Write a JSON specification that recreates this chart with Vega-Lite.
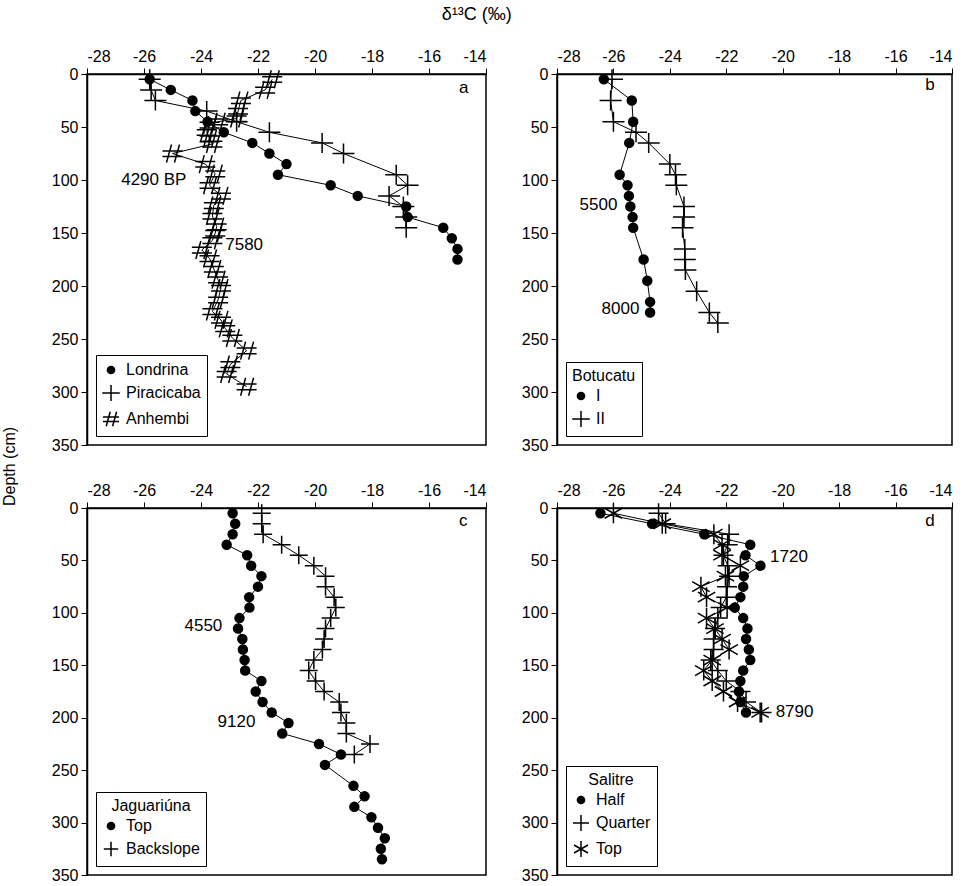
{
  "$schema": "https://vega.github.io/schema/vega-lite/v6.json",
  "padding": {"left": 0, "top": 6, "right": 5, "bottom": 2},
  "bounds": "flush",
  "title": {"text": "δ¹³C (‰)", "fontSize": 18, "fontWeight": "normal", "font": "Liberation Sans", "anchor": "middle", "offset": 23},
  "config": {
    "font": "Liberation Sans",
    "view": {"stroke": "black", "strokeWidth": 1.5},
    "axis": {"domainColor": "black", "domainWidth": 1.5, "tickColor": "black", "tickWidth": 1, "labelColor": "black", "labelFontSize": 16, "labelFont": "Liberation Sans", "grid": false, "titleFontSize": 16, "titleFontWeight": "normal", "titleColor": "black", "labelOverlap": false, "labelBound": false},
    "legend": {"labelFontSize": 16, "titleFontSize": 16, "titleFontWeight": "normal", "symbolSize": 256, "symbolStrokeColor": "black", "symbolFillColor": "transparent", "symbolStrokeWidth": 1.5, "strokeColor": "black", "padding": 6, "rowPadding": 4, "fillColor": "white", "labelOffset": 6, "orient": "bottom-left", "offset": 9, "titlePadding": 3, "labelColor": "black", "titleColor": "black"}
  },
  "resolve": {"scale": {"x": "independent", "y": "independent", "shape": "independent"}, "legend": {"shape": "independent"}, "axis": {"x": "independent", "y": "independent"}},
  "datasets": {
    "a": [
      {"series": "Londrina", "depth": 5, "d13c": -25.8}, {"series": "Londrina", "depth": 15, "d13c": -25.06}, {"series": "Londrina", "depth": 25, "d13c": -24.3}, {"series": "Londrina", "depth": 35, "d13c": -24.2}, {"series": "Londrina", "depth": 45, "d13c": -23.77}, {"series": "Londrina", "depth": 55, "d13c": -23.2}, {"series": "Londrina", "depth": 65, "d13c": -22.2}, {"series": "Londrina", "depth": 75, "d13c": -21.6}, {"series": "Londrina", "depth": 85, "d13c": -21.0}, {"series": "Londrina", "depth": 95, "d13c": -21.3}, {"series": "Londrina", "depth": 105, "d13c": -19.45}, {"series": "Londrina", "depth": 115, "d13c": -18.5}, {"series": "Londrina", "depth": 125, "d13c": -16.8}, {"series": "Londrina", "depth": 135, "d13c": -16.75}, {"series": "Londrina", "depth": 145, "d13c": -15.5}, {"series": "Londrina", "depth": 155, "d13c": -15.2}, {"series": "Londrina", "depth": 165, "d13c": -15.0}, {"series": "Londrina", "depth": 175, "d13c": -15.0},
      {"series": "Piracicaba", "depth": 5, "d13c": -25.8}, {"series": "Piracicaba", "depth": 15, "d13c": -25.75}, {"series": "Piracicaba", "depth": 25, "d13c": -25.6}, {"series": "Piracicaba", "depth": 35, "d13c": -23.8}, {"series": "Piracicaba", "depth": 45, "d13c": -22.75}, {"series": "Piracicaba", "depth": 55, "d13c": -21.6}, {"series": "Piracicaba", "depth": 65, "d13c": -19.75}, {"series": "Piracicaba", "depth": 75, "d13c": -19.0}, {"series": "Piracicaba", "depth": 95, "d13c": -17.15}, {"series": "Piracicaba", "depth": 105, "d13c": -16.75}, {"series": "Piracicaba", "depth": 115, "d13c": -17.4}, {"series": "Piracicaba", "depth": 125, "d13c": -16.9}, {"series": "Piracicaba", "depth": 135, "d13c": -16.8}, {"series": "Piracicaba", "depth": 145, "d13c": -16.8},
      {"series": "Anhembi", "depth": 5, "d13c": -21.5}, {"series": "Anhembi", "depth": 15, "d13c": -21.75}, {"series": "Anhembi", "depth": 25, "d13c": -22.6}, {"series": "Anhembi", "depth": 35, "d13c": -22.7}, {"series": "Anhembi", "depth": 42, "d13c": -22.75}, {"series": "Anhembi", "depth": 45, "d13c": -23.4}, {"series": "Anhembi", "depth": 48, "d13c": -23.7}, {"series": "Anhembi", "depth": 55, "d13c": -23.8}, {"series": "Anhembi", "depth": 61, "d13c": -23.7}, {"series": "Anhembi", "depth": 66, "d13c": -23.6}, {"series": "Anhembi", "depth": 75, "d13c": -25.0}, {"series": "Anhembi", "depth": 85, "d13c": -23.85}, {"series": "Anhembi", "depth": 94, "d13c": -23.5}, {"series": "Anhembi", "depth": 105, "d13c": -23.7}, {"series": "Anhembi", "depth": 115, "d13c": -23.3}, {"series": "Anhembi", "depth": 124, "d13c": -23.55}, {"series": "Anhembi", "depth": 134, "d13c": -23.6}, {"series": "Anhembi", "depth": 144, "d13c": -23.45}, {"series": "Anhembi", "depth": 150, "d13c": -23.5}, {"series": "Anhembi", "depth": 157, "d13c": -23.6}, {"series": "Anhembi", "depth": 166, "d13c": -23.97}, {"series": "Anhembi", "depth": 174, "d13c": -23.7}, {"series": "Anhembi", "depth": 184, "d13c": -23.55}, {"series": "Anhembi", "depth": 194, "d13c": -23.4}, {"series": "Anhembi", "depth": 202, "d13c": -23.3}, {"series": "Anhembi", "depth": 213, "d13c": -23.4}, {"series": "Anhembi", "depth": 224, "d13c": -23.6}, {"series": "Anhembi", "depth": 232, "d13c": -23.3}, {"series": "Anhembi", "depth": 240, "d13c": -23.15}, {"series": "Anhembi", "depth": 249, "d13c": -22.9}, {"series": "Anhembi", "depth": 261, "d13c": -22.4}, {"series": "Anhembi", "depth": 274, "d13c": -22.97}, {"series": "Anhembi", "depth": 283, "d13c": -23.1}, {"series": "Anhembi", "depth": 295, "d13c": -22.4}
    ],
    "a_lab": [
      {"label": "4290 BP", "d13c": -26.8, "depth": 100},
      {"label": "7580", "d13c": -23.15, "depth": 161},
      {"label": "a", "d13c": -14.95, "depth": 13}
    ],
    "b": [
      {"series": "I", "depth": 5, "d13c": -26.34}, {"series": "I", "depth": 25, "d13c": -25.35}, {"series": "I", "depth": 45, "d13c": -25.3}, {"series": "I", "depth": 65, "d13c": -25.44}, {"series": "I", "depth": 95, "d13c": -25.78}, {"series": "I", "depth": 105, "d13c": -25.5}, {"series": "I", "depth": 115, "d13c": -25.45}, {"series": "I", "depth": 125, "d13c": -25.4}, {"series": "I", "depth": 135, "d13c": -25.32}, {"series": "I", "depth": 145, "d13c": -25.3}, {"series": "I", "depth": 175, "d13c": -24.93}, {"series": "I", "depth": 195, "d13c": -24.8}, {"series": "I", "depth": 215, "d13c": -24.7}, {"series": "I", "depth": 225, "d13c": -24.7},
      {"series": "II", "depth": 5, "d13c": -26.05}, {"series": "II", "depth": 25, "d13c": -26.1}, {"series": "II", "depth": 45, "d13c": -26.0}, {"series": "II", "depth": 55, "d13c": -25.2}, {"series": "II", "depth": 65, "d13c": -24.75}, {"series": "II", "depth": 85, "d13c": -24.0}, {"series": "II", "depth": 95, "d13c": -23.8}, {"series": "II", "depth": 105, "d13c": -23.77}, {"series": "II", "depth": 125, "d13c": -23.5}, {"series": "II", "depth": 135, "d13c": -23.5}, {"series": "II", "depth": 145, "d13c": -23.55}, {"series": "II", "depth": 165, "d13c": -23.47}, {"series": "II", "depth": 175, "d13c": -23.47}, {"series": "II", "depth": 185, "d13c": -23.45}, {"series": "II", "depth": 205, "d13c": -23.05}, {"series": "II", "depth": 225, "d13c": -22.6}, {"series": "II", "depth": 235, "d13c": -22.3}
    ],
    "b_lab": [
      {"label": "5500", "d13c": -27.2, "depth": 124},
      {"label": "8000", "d13c": -26.42, "depth": 222},
      {"label": "b", "d13c": -14.95, "depth": 10}
    ],
    "c": [
      {"series": "Top", "depth": 5, "d13c": -22.89}, {"series": "Top", "depth": 15, "d13c": -22.8}, {"series": "Top", "depth": 25, "d13c": -22.89}, {"series": "Top", "depth": 35, "d13c": -23.1}, {"series": "Top", "depth": 45, "d13c": -22.38}, {"series": "Top", "depth": 55, "d13c": -22.24}, {"series": "Top", "depth": 65, "d13c": -21.88}, {"series": "Top", "depth": 75, "d13c": -22.0}, {"series": "Top", "depth": 85, "d13c": -22.31}, {"series": "Top", "depth": 95, "d13c": -22.3}, {"series": "Top", "depth": 105, "d13c": -22.65}, {"series": "Top", "depth": 115, "d13c": -22.7}, {"series": "Top", "depth": 125, "d13c": -22.55}, {"series": "Top", "depth": 135, "d13c": -22.53}, {"series": "Top", "depth": 145, "d13c": -22.47}, {"series": "Top", "depth": 155, "d13c": -22.45}, {"series": "Top", "depth": 165, "d13c": -21.88}, {"series": "Top", "depth": 175, "d13c": -22.08}, {"series": "Top", "depth": 185, "d13c": -21.84}, {"series": "Top", "depth": 195, "d13c": -21.52}, {"series": "Top", "depth": 205, "d13c": -20.93}, {"series": "Top", "depth": 215, "d13c": -21.15}, {"series": "Top", "depth": 225, "d13c": -19.86}, {"series": "Top", "depth": 235, "d13c": -19.09}, {"series": "Top", "depth": 245, "d13c": -19.65}, {"series": "Top", "depth": 265, "d13c": -18.65}, {"series": "Top", "depth": 275, "d13c": -18.26}, {"series": "Top", "depth": 285, "d13c": -18.62}, {"series": "Top", "depth": 295, "d13c": -18.02}, {"series": "Top", "depth": 305, "d13c": -17.79}, {"series": "Top", "depth": 315, "d13c": -17.55}, {"series": "Top", "depth": 325, "d13c": -17.69}, {"series": "Top", "depth": 335, "d13c": -17.65},
      {"series": "Backslope", "depth": 5, "d13c": -21.87}, {"series": "Backslope", "depth": 15, "d13c": -21.87}, {"series": "Backslope", "depth": 25, "d13c": -21.82}, {"series": "Backslope", "depth": 35, "d13c": -21.17}, {"series": "Backslope", "depth": 45, "d13c": -20.57}, {"series": "Backslope", "depth": 55, "d13c": -20.04}, {"series": "Backslope", "depth": 65, "d13c": -19.63}, {"series": "Backslope", "depth": 75, "d13c": -19.63}, {"series": "Backslope", "depth": 85, "d13c": -19.33}, {"series": "Backslope", "depth": 95, "d13c": -19.27}, {"series": "Backslope", "depth": 105, "d13c": -19.45}, {"series": "Backslope", "depth": 115, "d13c": -19.63}, {"series": "Backslope", "depth": 125, "d13c": -19.68}, {"series": "Backslope", "depth": 135, "d13c": -19.74}, {"series": "Backslope", "depth": 145, "d13c": -20.04}, {"series": "Backslope", "depth": 155, "d13c": -20.22}, {"series": "Backslope", "depth": 165, "d13c": -19.98}, {"series": "Backslope", "depth": 175, "d13c": -19.68}, {"series": "Backslope", "depth": 185, "d13c": -19.15}, {"series": "Backslope", "depth": 195, "d13c": -19.09}, {"series": "Backslope", "depth": 205, "d13c": -18.9}, {"series": "Backslope", "depth": 215, "d13c": -18.9}, {"series": "Backslope", "depth": 225, "d13c": -18.07}, {"series": "Backslope", "depth": 235, "d13c": -18.62}
    ],
    "c_lab": [
      {"label": "4550", "d13c": -24.58, "depth": 113},
      {"label": "9120", "d13c": -23.42, "depth": 204},
      {"label": "c", "d13c": -14.95, "depth": 12}
    ],
    "d": [
      {"series": "Half", "depth": 5, "d13c": -26.46}, {"series": "Half", "depth": 15, "d13c": -24.63}, {"series": "Half", "depth": 25, "d13c": -22.78}, {"series": "Half", "depth": 35, "d13c": -21.15}, {"series": "Half", "depth": 45, "d13c": -21.32}, {"series": "Half", "depth": 55, "d13c": -20.79}, {"series": "Half", "depth": 65, "d13c": -21.38}, {"series": "Half", "depth": 75, "d13c": -21.4}, {"series": "Half", "depth": 85, "d13c": -21.5}, {"series": "Half", "depth": 95, "d13c": -21.7}, {"series": "Half", "depth": 105, "d13c": -21.4}, {"series": "Half", "depth": 115, "d13c": -21.25}, {"series": "Half", "depth": 125, "d13c": -21.3}, {"series": "Half", "depth": 135, "d13c": -21.2}, {"series": "Half", "depth": 145, "d13c": -21.15}, {"series": "Half", "depth": 155, "d13c": -21.4}, {"series": "Half", "depth": 165, "d13c": -21.5}, {"series": "Half", "depth": 175, "d13c": -21.55}, {"series": "Half", "depth": 185, "d13c": -21.5}, {"series": "Half", "depth": 195, "d13c": -21.3},
      {"series": "Quarter", "depth": 5, "d13c": -24.4}, {"series": "Quarter", "depth": 15, "d13c": -24.15}, {"series": "Quarter", "depth": 25, "d13c": -21.9}, {"series": "Quarter", "depth": 35, "d13c": -21.95}, {"series": "Quarter", "depth": 45, "d13c": -22.1}, {"series": "Quarter", "depth": 55, "d13c": -21.95}, {"series": "Quarter", "depth": 65, "d13c": -21.9}, {"series": "Quarter", "depth": 75, "d13c": -21.97}, {"series": "Quarter", "depth": 85, "d13c": -22.0}, {"series": "Quarter", "depth": 95, "d13c": -22.2}, {"series": "Quarter", "depth": 105, "d13c": -22.3}, {"series": "Quarter", "depth": 115, "d13c": -22.4}, {"series": "Quarter", "depth": 125, "d13c": -22.45}, {"series": "Quarter", "depth": 135, "d13c": -22.45}, {"series": "Quarter", "depth": 145, "d13c": -22.55}, {"series": "Quarter", "depth": 155, "d13c": -22.3}, {"series": "Quarter", "depth": 165, "d13c": -22.0}, {"series": "Quarter", "depth": 175, "d13c": -21.5}, {"series": "Quarter", "depth": 185, "d13c": -21.3}, {"series": "Quarter", "depth": 195, "d13c": -20.75},
      {"series": "Top", "depth": 5, "d13c": -26.0}, {"series": "Top", "depth": 15, "d13c": -24.27}, {"series": "Top", "depth": 25, "d13c": -22.44}, {"series": "Top", "depth": 35, "d13c": -22.15}, {"series": "Top", "depth": 45, "d13c": -22.15}, {"series": "Top", "depth": 55, "d13c": -21.5}, {"series": "Top", "depth": 65, "d13c": -22.03}, {"series": "Top", "depth": 75, "d13c": -22.9}, {"series": "Top", "depth": 85, "d13c": -22.7}, {"series": "Top", "depth": 95, "d13c": -21.97}, {"series": "Top", "depth": 105, "d13c": -22.7}, {"series": "Top", "depth": 115, "d13c": -22.4}, {"series": "Top", "depth": 125, "d13c": -22.15}, {"series": "Top", "depth": 135, "d13c": -21.9}, {"series": "Top", "depth": 145, "d13c": -22.5}, {"series": "Top", "depth": 155, "d13c": -22.8}, {"series": "Top", "depth": 165, "d13c": -22.5}, {"series": "Top", "depth": 175, "d13c": -22.1}, {"series": "Top", "depth": 185, "d13c": -21.6}, {"series": "Top", "depth": 195, "d13c": -20.8}
    ],
    "d_lab": [
      {"label": "1720", "d13c": -20.45, "depth": 47},
      {"label": "8790", "d13c": -20.25, "depth": 195},
      {"label": "d", "d13c": -14.95, "depth": 12}
    ]
  },
  "columns": 2,
  "spacing": {"row": 63, "column": 71},
  "concat": [
    {
      "width": 399, "height": 371,
      "layer": [
        {"data": {"name": "a"}, "mark": {"type": "line", "color": "black", "strokeWidth": 1},
         "encoding": {"x": {"field": "d13c", "type": "quantitative", "scale": {"domain": [-28, -14], "nice": false, "zero": false}, "axis": {"orient": "top", "title": null, "values": [-28,-27.5,-27,-26.5,-26,-25.5,-25,-24.5,-24,-23.5,-23,-22.5,-22,-21.5,-21,-20.5,-20,-19.5,-19,-18.5,-18,-17.5,-17,-16.5,-16,-15.5,-15,-14.5,-14], "labelExpr": "datum.value % 2 == 0 ? '' + datum.value : ''", "tickSize": {"condition": {"test": "datum.value % 2 == 0", "value": 6}, "value": 3}, "labelPadding": 4}},
                      "y": {"field": "depth", "type": "quantitative", "scale": {"domain": [0, 350], "reverse": true, "nice": false}, "axis": {"title": "Depth (cm)", "titleX": -78, "titleY": 392, "titleAlign": "center", "titleBaseline": "middle", "values": [0, 50, 100, 150, 200, 250, 300, 350], "format": "d", "tickSize": 6, "labelPadding": 3}},
                      "detail": {"field": "series"}, "order": {"field": "depth"}}},
        {"data": {"name": "a"}, "mark": {"type": "point", "stroke": "black", "strokeWidth": 1.5, "opacity": 1, "size": 400},
         "encoding": {"x": {"field": "d13c", "type": "quantitative"}, "y": {"field": "depth", "type": "quantitative"},
                      "shape": {"field": "series", "type": "nominal", "scale": {"domain": ["Londrina", "Piracicaba", "Anhembi"], "range": ["M0.45,0A0.45,0.45 0 1,1 -0.45,0A0.45,0.45 0 1,1 0.45,0M0.35,0A0.35,0.35 0 1,1 -0.35,0A0.35,0.35 0 1,1 0.35,0M0.25,0A0.25,0.25 0 1,1 -0.25,0A0.25,0.25 0 1,1 0.25,0M0.15,0A0.15,0.15 0 1,1 -0.15,0A0.15,0.15 0 1,1 0.15,0M0.06,0A0.06,0.06 0 1,1 -0.06,0A0.06,0.06 0 1,1 0.06,0", "M-1.1,0L1.1,0M0,-1L0,1", "M-0.1,-0.9L-0.6,0.9M0.7,-0.9L0.2,0.9M-1,-0.26L1,-0.26M-1,0.3L1,0.3"]}, "legend": {"title": null}}}},
        {"data": {"name": "a_lab"}, "mark": {"type": "text", "align": "left", "baseline": "middle", "fontSize": 17, "color": "black"},
         "encoding": {"x": {"field": "d13c", "type": "quantitative"}, "y": {"field": "depth", "type": "quantitative"}, "text": {"field": "label"}}}
      ]
    },
    {
      "width": 395, "height": 371,
      "layer": [
        {"data": {"name": "b"}, "mark": {"type": "line", "color": "black", "strokeWidth": 1},
         "encoding": {"x": {"field": "d13c", "type": "quantitative", "scale": {"domain": [-28, -14], "nice": false, "zero": false}, "axis": {"orient": "top", "title": null, "values": [-28,-27.5,-27,-26.5,-26,-25.5,-25,-24.5,-24,-23.5,-23,-22.5,-22,-21.5,-21,-20.5,-20,-19.5,-19,-18.5,-18,-17.5,-17,-16.5,-16,-15.5,-15,-14.5,-14], "labelExpr": "datum.value % 2 == 0 ? '' + datum.value : ''", "tickSize": {"condition": {"test": "datum.value % 2 == 0", "value": 6}, "value": 3}, "labelPadding": 4}},
                      "y": {"field": "depth", "type": "quantitative", "scale": {"domain": [0, 350], "reverse": true, "nice": false}, "axis": {"title": null, "values": [0, 50, 100, 150, 200, 250, 300, 350], "format": "d", "tickSize": 6, "labelPadding": 3}},
                      "detail": {"field": "series"}, "order": {"field": "depth"}}},
        {"data": {"name": "b"}, "mark": {"type": "point", "stroke": "black", "strokeWidth": 1.5, "opacity": 1, "size": 400},
         "encoding": {"x": {"field": "d13c", "type": "quantitative"}, "y": {"field": "depth", "type": "quantitative"},
                      "shape": {"field": "series", "type": "nominal", "scale": {"domain": ["I", "II"], "range": ["M0.45,0A0.45,0.45 0 1,1 -0.45,0A0.45,0.45 0 1,1 0.45,0M0.35,0A0.35,0.35 0 1,1 -0.35,0A0.35,0.35 0 1,1 0.35,0M0.25,0A0.25,0.25 0 1,1 -0.25,0A0.25,0.25 0 1,1 0.25,0M0.15,0A0.15,0.15 0 1,1 -0.15,0A0.15,0.15 0 1,1 0.15,0M0.06,0A0.06,0.06 0 1,1 -0.06,0A0.06,0.06 0 1,1 0.06,0", "M-1.1,0L1.1,0M0,-1L0,1"]}, "legend": {"title": "Botucatu"}}}},
        {"data": {"name": "b_lab"}, "mark": {"type": "text", "align": "left", "baseline": "middle", "fontSize": 17, "color": "black"},
         "encoding": {"x": {"field": "d13c", "type": "quantitative"}, "y": {"field": "depth", "type": "quantitative"}, "text": {"field": "label"}}}
      ]
    },
    {
      "width": 399, "height": 367,
      "layer": [
        {"data": {"name": "c"}, "mark": {"type": "line", "color": "black", "strokeWidth": 1},
         "encoding": {"x": {"field": "d13c", "type": "quantitative", "scale": {"domain": [-28, -14], "nice": false, "zero": false}, "axis": {"orient": "top", "title": null, "values": [-28,-27.5,-27,-26.5,-26,-25.5,-25,-24.5,-24,-23.5,-23,-22.5,-22,-21.5,-21,-20.5,-20,-19.5,-19,-18.5,-18,-17.5,-17,-16.5,-16,-15.5,-15,-14.5,-14], "labelExpr": "datum.value % 2 == 0 ? '' + datum.value : ''", "tickSize": {"condition": {"test": "datum.value % 2 == 0", "value": 6}, "value": 3}, "labelPadding": 4}},
                      "y": {"field": "depth", "type": "quantitative", "scale": {"domain": [0, 350], "reverse": true, "nice": false}, "axis": {"title": null, "values": [0, 50, 100, 150, 200, 250, 300, 350], "format": "d", "tickSize": 6, "labelPadding": 3}},
                      "detail": {"field": "series"}, "order": {"field": "depth"}}},
        {"data": {"name": "c"}, "mark": {"type": "point", "stroke": "black", "strokeWidth": 1.5, "opacity": 1, "size": 400},
         "encoding": {"x": {"field": "d13c", "type": "quantitative"}, "y": {"field": "depth", "type": "quantitative"},
                      "shape": {"field": "series", "type": "nominal", "scale": {"domain": ["Top", "Backslope"], "range": ["M0.45,0A0.45,0.45 0 1,1 -0.45,0A0.45,0.45 0 1,1 0.45,0M0.35,0A0.35,0.35 0 1,1 -0.35,0A0.35,0.35 0 1,1 0.35,0M0.25,0A0.25,0.25 0 1,1 -0.25,0A0.25,0.25 0 1,1 0.25,0M0.15,0A0.15,0.15 0 1,1 -0.15,0A0.15,0.15 0 1,1 0.15,0M0.06,0A0.06,0.06 0 1,1 -0.06,0A0.06,0.06 0 1,1 0.06,0", "M-0.9,0L0.9,0M0,-0.9L0,0.9"]}, "legend": {"title": "Jaguariúna", "titleAnchor": "middle"}}}},
        {"data": {"name": "c_lab"}, "mark": {"type": "text", "align": "left", "baseline": "middle", "fontSize": 17, "color": "black"},
         "encoding": {"x": {"field": "d13c", "type": "quantitative"}, "y": {"field": "depth", "type": "quantitative"}, "text": {"field": "label"}}}
      ]
    },
    {
      "width": 395, "height": 367,
      "layer": [
        {"data": {"name": "d"}, "mark": {"type": "line", "color": "black", "strokeWidth": 1},
         "encoding": {"x": {"field": "d13c", "type": "quantitative", "scale": {"domain": [-28, -14], "nice": false, "zero": false}, "axis": {"orient": "top", "title": null, "values": [-28,-27.5,-27,-26.5,-26,-25.5,-25,-24.5,-24,-23.5,-23,-22.5,-22,-21.5,-21,-20.5,-20,-19.5,-19,-18.5,-18,-17.5,-17,-16.5,-16,-15.5,-15,-14.5,-14], "labelExpr": "datum.value % 2 == 0 ? '' + datum.value : ''", "tickSize": {"condition": {"test": "datum.value % 2 == 0", "value": 6}, "value": 3}, "labelPadding": 4}},
                      "y": {"field": "depth", "type": "quantitative", "scale": {"domain": [0, 350], "reverse": true, "nice": false}, "axis": {"title": null, "values": [0, 50, 100, 150, 200, 250, 300, 350], "format": "d", "tickSize": 6, "labelPadding": 3}},
                      "detail": {"field": "series"}, "order": {"field": "depth"}}},
        {"data": {"name": "d"}, "mark": {"type": "point", "stroke": "black", "strokeWidth": 1.5, "opacity": 1, "size": 400},
         "encoding": {"x": {"field": "d13c", "type": "quantitative"}, "y": {"field": "depth", "type": "quantitative"},
                      "shape": {"field": "series", "type": "nominal", "scale": {"domain": ["Half", "Quarter", "Top"], "range": ["M0.45,0A0.45,0.45 0 1,1 -0.45,0A0.45,0.45 0 1,1 0.45,0M0.35,0A0.35,0.35 0 1,1 -0.35,0A0.35,0.35 0 1,1 0.35,0M0.25,0A0.25,0.25 0 1,1 -0.25,0A0.25,0.25 0 1,1 0.25,0M0.15,0A0.15,0.15 0 1,1 -0.15,0A0.15,0.15 0 1,1 0.15,0M0.06,0A0.06,0.06 0 1,1 -0.06,0A0.06,0.06 0 1,1 0.06,0", "M-1,0L1,0M0,-1L0,1", "M0,-1L0,1M-0.87,-0.5L0.87,0.5M-0.87,0.5L0.87,-0.5"]}, "legend": {"title": "Salitre", "titleAnchor": "middle"}}}},
        {"data": {"name": "d_lab"}, "mark": {"type": "text", "align": "left", "baseline": "middle", "fontSize": 17, "color": "black"},
         "encoding": {"x": {"field": "d13c", "type": "quantitative"}, "y": {"field": "depth", "type": "quantitative"}, "text": {"field": "label"}}}
      ]
    }
  ]
}
